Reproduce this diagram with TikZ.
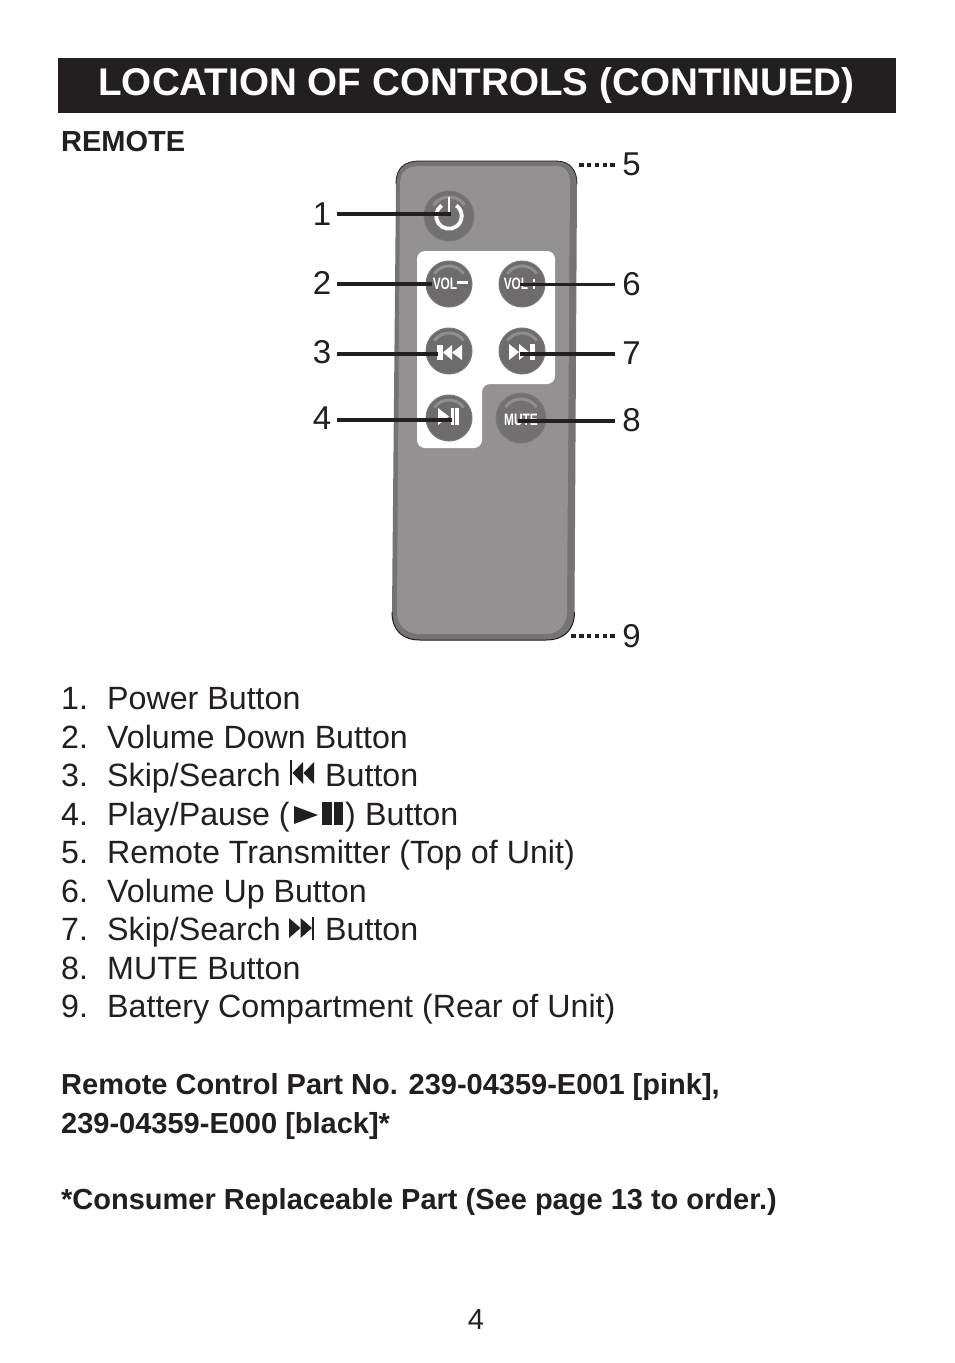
\documentclass[tikz,border=0pt]{standalone}
\usepackage{fontspec}
\setmainfont{Liberation Sans}
\definecolor{ink}{HTML}{231F20}
\definecolor{bodyfill}{HTML}{939191}
\definecolor{bodyedge}{HTML}{757373}
\definecolor{btn}{HTML}{6D6B6B}
\definecolor{btnhi}{HTML}{8F8D8D}
\tikzset{
  x=1pt,y=-1pt,
  listtext/.style={anchor=base west,inner sep=0,text=ink,font=\fontsize{32.2}{36}\selectfont},
  boldtext/.style={anchor=base west,inner sep=0,text=ink,font=\fontsize{29}{34}\selectfont\bfseries},
  numlabel/.style={inner sep=0,minimum width=30,minimum height=30,text=ink,font=\fontsize{33}{36}\selectfont},
  numlabelr/.style={numlabel,minimum width=33},
  leader/.style={line width=3.6pt,ink},
  dots/.style={line width=3.6pt,ink,dash pattern=on 4.4pt off 3.4pt},
  rbtn/.style={circle,draw=ink!60,line width=1pt,fill=btn,inner sep=0,minimum size=46},
  rbtnbig/.style={rbtn,minimum size=50,fill=btn!88!bodyfill},
  btntext/.style={inner sep=0,text=white,font=\fontsize{16.5}{16.5}\selectfont\bfseries,xscale=.72},
  icon/.style={fill=white,draw=none},
  txticon/.style={fill=ink,draw=none}
}
\begin{document}
\begin{tikzpicture}
\useasboundingbox (0,0) rectangle (954,1363);
\fill[white] (0,0) rectangle (954,1363);
% title
\fill[ink] (58,58) rectangle (896,113);
\node[anchor=base,inner sep=0,text=white,font=\fontsize{38.6}{42}\selectfont\bfseries] (title) at (476.5,95) {LOCATION OF CONTROLS (CONTINUED)};
\node[boldtext] (remote) at (61,151.5) {REMOTE};
% remote body
\fill[bodyedge] (396,184) .. controls (396,168) and (404,161) .. (420,161) -- (556,161)
  .. controls (570,161) and (577,170) .. (577,184) -- (574.5,612)
  .. controls (574.5,630) and (564,640) .. (546,640) -- (420,640)
  .. controls (402,640) and (392,630) .. (392,612) -- cycle;
\fill[bodyfill] (400,184) .. controls (400,172) and (407,166) .. (420,166) -- (556,166)
  .. controls (566,166) and (570,173) .. (570,184) -- (567,612)
  .. controls (567,625) and (558,634) .. (546,634) -- (420,634)
  .. controls (406,634) and (397,625) .. (397,612) -- cycle;
\draw[ink,line width=.8pt] (396,184) .. controls (396,168) and (404,161) .. (420,161) -- (556,161)
  .. controls (570,161) and (577,170) .. (577,184);
\draw[ink,line width=1pt] (392,612) .. controls (392,630) and (402,640) .. (420,640) -- (546,640)
  .. controls (564,640) and (574.5,630) .. (574.5,612);
% white panel
\fill[white,rounded corners=8pt] (417,251) -- (555,251) -- (555,384) -- (482,384) -- (482,448) -- (417,448) -- cycle;
% buttons
\node[rbtnbig] (b1) at (449,216) {};
\node[rbtn] (b2) at (449,284) {};
\node[rbtn] (b6) at (522,284) {};
\node[rbtn] (b3) at (449,351) {};
\node[rbtn] (b7) at (522,351) {};
\node[rbtn] (b4) at (449,418) {};
\node[rbtnbig] (b8) at (521,418) {};
% highlights
\foreach \c/\r in {b1/19,b2/18,b6/18,b3/18,b7/18,b4/18,b8/19}{
  \draw[btnhi,line width=3pt] ([shift={(-.819*\r,-.574*\r)}]\c.center) arc[start angle=215,end angle=325,radius=\r];
}
% power icon
\draw[white,line width=3.8pt] (441.6,205.5) arc[start angle=235,end angle=-55,radius=12.8];
\draw[white,line width=2pt] (449,197) -- (449,214);
% button text
\node[btntext] (t2) at (445,284) {VOL};
\fill[white] (457,281) rectangle (468,283.5);
\node[btntext] (t6) at (516,284) {VOL};
\fill[white] (533,279) rectangle (535,281.5);
\fill[white] (533,286) rectangle (535,288.5);
\node[btntext] (t8) at (521,420) {MUTE};
% skip icons on buttons
\fill[icon] (437,345) rectangle (443,360);
\fill[icon] (452,345) -- (452,360) -- (443,352.5) -- cycle;
\fill[icon] (462,345) -- (462,360) -- (452,352.5) -- cycle;
\fill[icon] (509,344) -- (509,360) -- (519,352) -- cycle;
\fill[icon] (519,344) -- (519,360) -- (529,352) -- cycle;
\fill[icon] (530,344) rectangle (534.5,360);
\fill[icon] (438,408) -- (438,425) -- (449,416.5) -- cycle;
\fill[icon] (451,408) rectangle (454,425);
\fill[icon] (455,408) rectangle (459,425);
% number labels
\node[numlabel] (n1) at (322,214) {1};
\node[numlabel] (n2) at (322,283) {2};
\node[numlabel] (n3) at (322,352) {3};
\node[numlabel] (n4) at (322,418) {4};
\node[numlabelr] (n5) at (631.5,164) {5};
\node[numlabelr] (n6) at (631.5,284) {6};
\node[numlabelr] (n7) at (631.5,353) {7};
\node[numlabelr] (n8) at (631.5,420) {8};
\node[numlabelr] (n9) at (631.5,636) {9};
% connector ends
\coordinate (c1) at (451,214);
\coordinate (c2) at (432,284);
\coordinate (c3) at (438,354);
\coordinate (c4) at (452,420);
\coordinate (c5) at (579,165);
\coordinate (c6) at (520,284.5);
\coordinate (c7) at (520,354);
\coordinate (c8) at (518,421);
\coordinate (c9) at (570,636);
\draw[leader] (n1.east |- c1) -- (c1);
\draw[leader] (n2.east |- c2) -- (c2);
\draw[leader] (n3.east |- c3) -- (c3);
\draw[leader] (n4.east |- c4) -- (c4);
\draw[dots] (n5.west |- c5) -- (c5);
\draw[leader] (n6.west |- c6) -- (c6);
\draw[leader] (n7.west |- c7) -- (c7);
\draw[leader] (n8.west |- c8) -- (c8);
\draw[dots] (n9.west |- c9) -- (c9);
% list
\node[listtext] (l1) at (61,709) {1.};
\node[listtext] (l1t) at (107,709) {Power Button};
\node[listtext] (l2) at (61,748) {2.};
\node[listtext] (l2t) at (107,748) {Volume Down Button};
\node[listtext] (l3) at (61,786) {3.};
\node[listtext] (l3t) at (107,786) {Skip/Search};
\fill[txticon] (290,760) rectangle (292,785);
\fill[txticon] (303,762) -- (303,784) -- (292.5,773) -- cycle;
\fill[txticon] (314,762) -- (314,784) -- (303.5,773) -- cycle;
\node[listtext] (l3b) at (325,786) {Button};
\node[listtext] (l4) at (61,825) {4.};
\node[listtext] (l4t) at (107,825) {Play/Pause (};
\fill[txticon] (294,806) -- (294,824) -- (318,815) -- cycle;
\fill[txticon] (322,802) rectangle (332,825);
\fill[txticon] (333.5,802) rectangle (343,825);
\node[listtext] (l4p) at (345,825) {)};
\node[listtext] (l4b) at (365,825) {Button};
\node[listtext] (l5) at (61,863) {5.};
\node[listtext] (l5t) at (107,863) {Remote Transmitter (Top of Unit)};
\node[listtext] (l6) at (61,902) {6.};
\node[listtext] (l6t) at (107,902) {Volume Up Button};
\node[listtext] (l7) at (61,940) {7.};
\node[listtext] (l7t) at (107,940) {Skip/Search};
\fill[txticon] (289,918) -- (289,938) -- (300.5,928) -- cycle;
\fill[txticon] (300.5,918) -- (300.5,938) -- (312,928) -- cycle;
\fill[txticon] (312,917) rectangle (314,940);
\node[listtext] (l7b) at (325,940) {Button};
\node[listtext] (l8) at (61,979) {8.};
\node[listtext] (l8t) at (107,979) {MUTE Button};
\node[listtext] (l9) at (61,1017) {9.};
\node[listtext] (l9t) at (107,1017) {Battery Compartment (Rear of Unit)};
% bold notes
\node[boldtext] (p1) at (61,1094) {Remote Control Part No. 239-04359-E001 [pink],};
\node[boldtext] (p2) at (61,1133) {239-04359-E000 [black]*};
\node[boldtext] (p3) at (61,1209.5) {*Consumer Replaceable Part (See page 13 to order.)};
\node[anchor=base,inner sep=0,text=ink,font=\fontsize{29}{32}\selectfont] (pg) at (476,1329.5) {4};
\end{tikzpicture}
\end{document}
